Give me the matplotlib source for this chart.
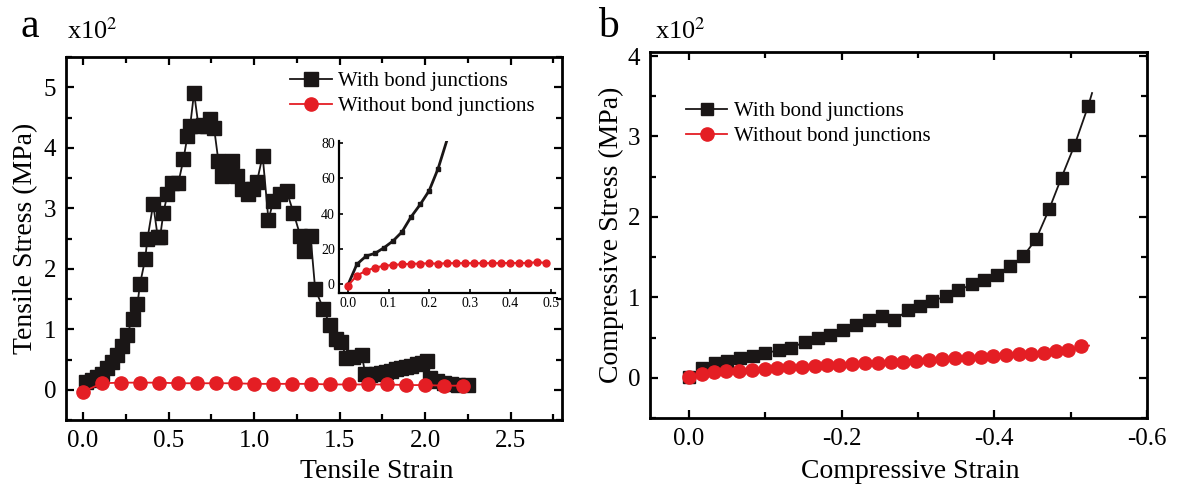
#!/usr/bin/env python3
import matplotlib
matplotlib.use("Agg")
import matplotlib.pyplot as plt
from matplotlib.ticker import MultipleLocator

plt.rcParams['font.family'] = ['Liberation Serif', 'DejaVu Serif']
plt.rcParams['mathtext.fontset'] = 'stix'

BLACK = '#1a1616'
RED = '#e41e24'

# ---- panel a: tensile ----
tens_bond_x = [0.02, 0.05, 0.08, 0.11, 0.14, 0.17, 0.20, 0.23, 0.255, 0.29,
               0.318, 0.333, 0.363, 0.376, 0.41, 0.437, 0.45, 0.47, 0.493, 0.519,
               0.557, 0.587, 0.61, 0.626, 0.649, 0.675, 0.70, 0.723, 0.743, 0.766,
               0.791, 0.811, 0.844, 0.869, 0.899, 0.928, 0.967, 0.996, 1.016, 1.05,
               1.084, 1.113, 1.152, 1.19, 1.23, 1.27, 1.29, 1.33, 1.357, 1.405,
               1.444, 1.48, 1.51, 1.54, 1.58, 1.63, 1.65, 1.68, 1.71, 1.74,
               1.77, 1.80, 1.83, 1.86, 1.89, 1.92, 1.95, 1.98, 2.01, 2.03,
               2.07, 2.11, 2.15, 2.19, 2.25]
tens_bond_y = [0.13, 0.17, 0.21, 0.27, 0.36, 0.46, 0.58, 0.72, 0.90, 1.18,
               1.42, 1.75, 2.16, 2.49, 3.07, 2.52, 2.52, 2.93, 3.23, 3.42,
               3.42, 3.81, 4.19, 4.36, 4.91, 4.36, 4.38, 4.36, 4.47, 4.33,
               3.79, 3.54, 3.68, 3.78, 3.54, 3.32, 3.23, 3.32, 3.43, 3.87,
               2.81, 3.13, 3.23, 3.29, 2.93, 2.55, 2.30, 2.55, 1.67, 1.34,
               1.07, 0.84, 0.79, 0.52, 0.55, 0.58, 0.26, 0.25, 0.26, 0.28,
               0.30, 0.32, 0.34, 0.36, 0.38, 0.40, 0.42, 0.45, 0.47, 0.19,
               0.14, 0.11, 0.09, 0.08, 0.08]

tens_nobond_x = [0.0, 0.111, 0.222, 0.333, 0.444, 0.555, 0.666, 0.777, 0.888, 0.999,
                 1.11, 1.221, 1.332, 1.443, 1.554, 1.665, 1.776, 1.887, 1.998, 2.109,
                 2.22]
tens_nobond_y = [-0.03, 0.11, 0.12, 0.12, 0.12, 0.11, 0.11, 0.11, 0.11, 0.10,
                 0.10, 0.10, 0.10, 0.09, 0.09, 0.09, 0.09, 0.08, 0.08, 0.07,
                 0.07]

# inset (raw MPa, small strain)
ins_bond_x = [0.0, 0.022, 0.045, 0.067, 0.089, 0.111, 0.133, 0.155, 0.178, 0.2,
              0.222, 0.247]
ins_bond_y = [-0.4, 11.3, 16.0, 17.5, 20.7, 24.5, 29.6, 38.0, 45.2, 53.0,
              65.5, 84.0]
ins_nobond_x = [0.0, 0.022, 0.044, 0.067, 0.089, 0.111, 0.133, 0.155, 0.178, 0.2,
                0.222, 0.244, 0.266, 0.289, 0.311, 0.333, 0.355, 0.377, 0.4, 0.422,
                0.444, 0.466, 0.488]
ins_nobond_y = [-0.8, 4.9, 7.5, 9.4, 10.4, 10.9, 11.3, 11.5, 11.7, 11.8,
                11.6, 11.9, 11.9, 11.9, 11.9, 11.9, 11.9, 11.9, 12.0, 12.0,
                12.0, 12.5, 12.0]

# ---- panel b: compressive ----
comp_bond_x = [0.0, -0.017, -0.034, -0.050, -0.067, -0.084, -0.100, -0.118, -0.134, -0.152,
               -0.169, -0.185, -0.202, -0.219, -0.236, -0.253, -0.269, -0.287, -0.303, -0.319,
               -0.337, -0.353, -0.371, -0.387, -0.403, -0.420, -0.438, -0.455, -0.472, -0.488,
               -0.505, -0.523, -0.528]
comp_bond_y = [0.01, 0.12, 0.18, 0.21, 0.24, 0.27, 0.31, 0.34, 0.37, 0.45,
               0.49, 0.53, 0.60, 0.66, 0.72, 0.77, 0.72, 0.84, 0.89, 0.95,
               1.02, 1.09, 1.16, 1.22, 1.28, 1.39, 1.51, 1.73, 2.10, 2.49,
               2.89, 3.38, 3.54]
comp_nobond_x = [0.0, -0.017, -0.033, -0.049, -0.066, -0.083, -0.099, -0.115, -0.131, -0.148,
                 -0.165, -0.181, -0.197, -0.214, -0.231, -0.247, -0.264, -0.280, -0.297, -0.314,
                 -0.332, -0.349, -0.365, -0.382, -0.398, -0.415, -0.432, -0.448, -0.465, -0.481,
                 -0.497, -0.514, -0.524]
comp_nobond_y = [0.01, 0.05, 0.07, 0.08, 0.09, 0.10, 0.11, 0.12, 0.13, 0.14,
                 0.15, 0.16, 0.16, 0.17, 0.18, 0.19, 0.20, 0.20, 0.21, 0.22,
                 0.23, 0.24, 0.25, 0.26, 0.27, 0.28, 0.29, 0.30, 0.31, 0.33,
                 0.35, 0.39, 0.40]


def style_axes(ax, lw=2.0, size=18):
    for s in ax.spines.values():
        s.set_linewidth(lw)
    ax.tick_params(which='both', direction='in', top=True, right=True,
                   labeltop=False, labelright=False, width=lw * 0.8, labelsize=size, pad=7)
    ax.tick_params(which='major', length=6)
    ax.tick_params(which='minor', length=4)


fig = plt.figure(figsize=(11.78, 4.88), dpi=100)

# panel a
ax1 = fig.add_axes([0.056, 0.139, 0.421, 0.744])
ax1.plot(tens_bond_x, tens_bond_y, '-', color=BLACK, lw=1.3, marker='s', ms=9.5,
         mfc=BLACK, mec=BLACK, label='With bond junctions')
ax1.plot(tens_nobond_x, tens_nobond_y, '-', color=RED, lw=1.3, marker='o', ms=9.5,
         mfc=RED, mec=RED, label='Without bond junctions')
ax1.set_xlim(-0.1, 2.8)
ax1.set_ylim(-0.5, 5.5)
ax1.xaxis.set_major_locator(MultipleLocator(0.5))
ax1.xaxis.set_minor_locator(MultipleLocator(0.25))
ax1.yaxis.set_major_locator(MultipleLocator(1))
ax1.yaxis.set_minor_locator(MultipleLocator(0.5))
ax1.set_xticks([0, 0.5, 1.0, 1.5, 2.0, 2.5])
ax1.set_xticklabels(['0.0', '0.5', '1.0', '1.5', '2.0', '2.5'])
style_axes(ax1)
ax1.set_xlabel('Tensile Strain', fontsize=20)
ax1.xaxis.set_label_coords(0.627, -0.108)
ax1.set_ylabel('Tensile Stress (MPa)', fontsize=20)
ax1.yaxis.set_label_coords(-0.056, 0.5)
ax1.legend(loc='upper left', bbox_to_anchor=(0.452, 0.96), frameon=False, fontsize=15,
           handlelength=2.0, handletextpad=0.3, labelspacing=0.25, borderaxespad=0, borderpad=0)
fig.text(0.017, 0.905, 'a', fontsize=30, va='bottom')
fig.text(0.057, 0.91, r'x10$^{2}$', fontsize=19, va='bottom')

# inset
axi = fig.add_axes([0.2878, 0.3996, 0.1834, 0.311])
axi.patch.set_alpha(0)
axi.plot(ins_bond_x, ins_bond_y, '-', color=BLACK, lw=2.0, marker='s', ms=3,
         mfc=BLACK, mec=BLACK)
axi.plot(ins_nobond_x, ins_nobond_y, '-', color=RED, lw=1.5, marker='o', ms=5,
         mfc=RED, mec=RED)
axi.set_xlim(-0.022, 0.51)
axi.set_ylim(-5, 81)
axi.set_xticks([0.0, 0.1, 0.2, 0.3, 0.4, 0.5])
axi.set_yticks([0, 20, 40, 60, 80])
for side in ['top', 'right']:
    axi.spines[side].set_visible(False)
for side in ['left', 'bottom']:
    axi.spines[side].set_linewidth(1.6)
axi.tick_params(direction='in', length=3, width=1.2, labelsize=10, pad=3)

# panel b
ax2 = fig.add_axes([0.5518, 0.1434, 0.4219, 0.75])
ax2.plot(comp_bond_x, comp_bond_y, '-', color=BLACK, lw=1.3, marker='s', ms=9,
         mfc=BLACK, mec=BLACK, markevery=list(range(len(comp_bond_x) - 1)),
         label='With bond junctions')
ax2.plot(comp_nobond_x, comp_nobond_y, '-', color=RED, lw=1.3, marker='o', ms=9.5,
         mfc=RED, mec=RED, markevery=list(range(len(comp_nobond_x) - 1)),
         label='Without bond junctions')
ax2.set_xlim(0.051, -0.6)
ax2.set_ylim(-0.5, 4.05)
ax2.set_xticks([0.0, -0.2, -0.4, -0.6])
ax2.set_xticklabels(['0.0', '-0.2', '-0.4', '-0.6'])
ax2.xaxis.set_minor_locator(MultipleLocator(0.1))
ax2.yaxis.set_major_locator(MultipleLocator(1))
ax2.yaxis.set_minor_locator(MultipleLocator(0.5))
style_axes(ax2)
ax2.set_xlabel('Compressive Strain', fontsize=20)
ax2.xaxis.set_label_coords(0.523, -0.112)
ax2.set_ylabel('Compressive Stress (MPa)', fontsize=20)
ax2.yaxis.set_label_coords(-0.053, 0.5)
ax2.legend(loc='upper left', bbox_to_anchor=(0.072, 0.865), frameon=False, fontsize=15,
           handlelength=2.0, handletextpad=0.3, labelspacing=0.25, borderaxespad=0, borderpad=0)
fig.text(0.508, 0.905, 'b', fontsize=30, va='bottom')
fig.text(0.556, 0.91, r'x10$^{2}$', fontsize=19, va='bottom')

fig.savefig('out.png', dpi=100)
